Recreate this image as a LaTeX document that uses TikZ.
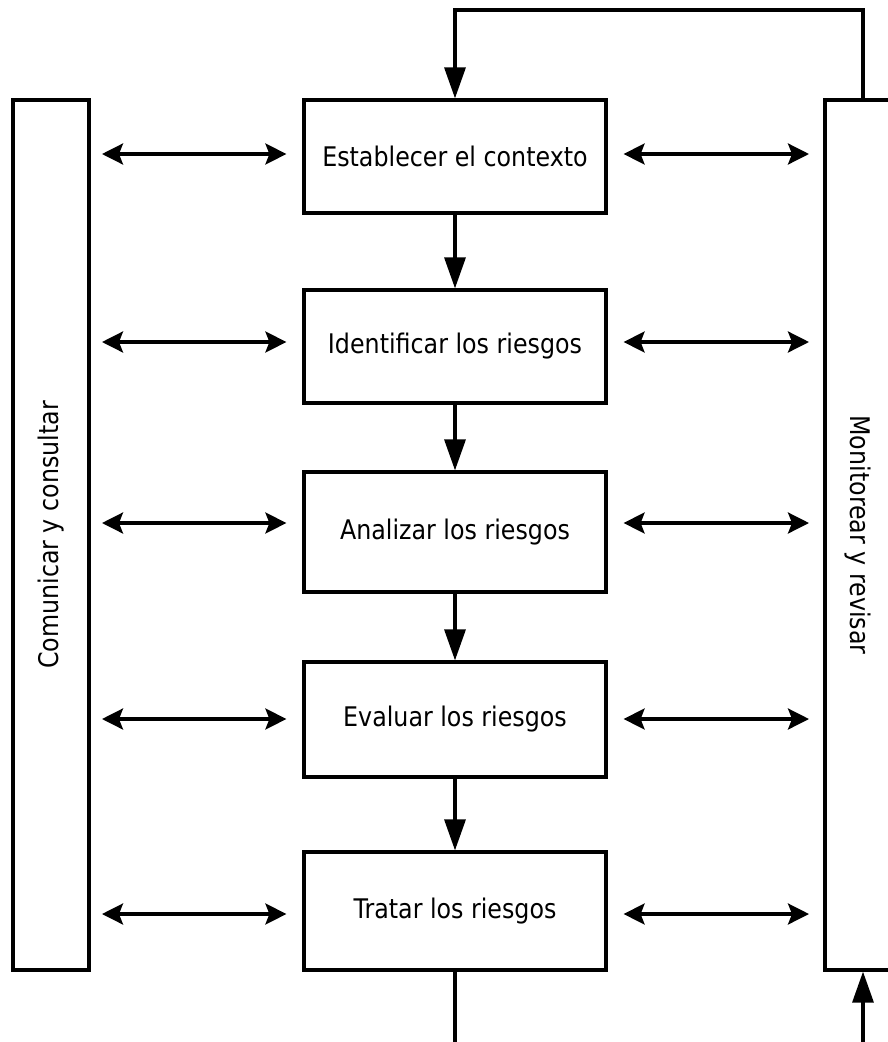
\documentclass[tikz,border=0pt]{standalone}
\usepackage{fontspec}
\setmainfont{DejaVu Sans}[FakeStretch=0.88]
\usetikzlibrary{arrows.meta}
\tikzset{
  stepbox/.style={draw, line width=3.2pt, minimum width=302pt, inner sep=0pt, font=\fontsize{27}{32}\selectfont},
  sidebox/.style={draw, line width=3.2pt, inner sep=0pt, font=\fontsize{27}{32}\selectfont},
  harrow/.style={line width=3.2pt, {Stealth[length=21pt,width=21pt,inset=4pt]}-{Stealth[length=21pt,width=21pt,inset=4pt]}},
  varrow/.style={line width=3.2pt, -{Triangle[length=31pt,width=21pt]}},
  plain/.style={line width=3.2pt}
}
\begin{document}
\begin{tikzpicture}[x=1pt,y=-1pt]
\useasboundingbox (0,0) rectangle (888,1042);
\clip (0,0) rectangle (888,1042);
\node[stepbox, minimum height=113pt] (b1) at (455,156.5) {Establecer el contexto};
\node[stepbox, minimum height=113pt] (b2) at (455,346.5) {Identificar los riesgos};
\node[stepbox, minimum height=120pt] (b3) at (455,532) {Analizar los riesgos};
\node[stepbox, minimum height=115pt] (b4) at (455,719.5) {Evaluar los riesgos};
\node[stepbox, minimum height=118pt] (b5) at (455,911) {Tratar los riesgos};
\node[sidebox, minimum width=870pt, minimum height=76pt, rotate=90] (cc) at (51,535) {Comunicar y consultar};
\node[sidebox, minimum width=870pt, minimum height=66pt, rotate=-90] (mr) at (858,535) {Monitorear y revisar};
\foreach \b/\y in {b1/154,b2/342,b3/523,b4/719,b5/914}{
  \coordinate (l\b) at (102,\y);
  \coordinate (r\b) at (809,\y);
  \draw[harrow] (l\b) -- ([xshift=-16pt]\b.west |- l\b);
  \draw[harrow] ([xshift=16pt]\b.east |- l\b) -- (r\b);
}
\draw[varrow] (b1) -- (b2);
\draw[varrow] (b2) -- (b3);
\draw[varrow] (b3) -- (b4);
\draw[varrow] (b4) -- (b5);
\coordinate (fbR) at (863,10);
\coordinate (fbL) at (455,10);
\draw[varrow] (mr.west -| fbR) -- (fbR) -- (fbL) -- (b1.north);
\coordinate (outB) at (455,1042);
\draw[plain] (b5.south) -- (outB);
\coordinate (inB) at (863,1042);
\draw[varrow] (inB) -- (inB |- mr.east);
\end{tikzpicture}
\end{document}
